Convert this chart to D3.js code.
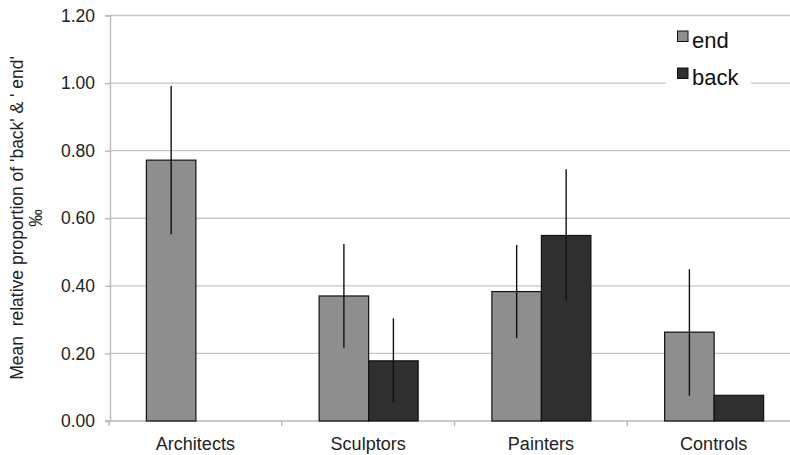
<!DOCTYPE html>
<html><head><meta charset="utf-8">
<script src="https://cdn.jsdelivr.net/npm/d3@7"></script>
<style>body{margin:0;background:#fff}svg{display:block}</style>
</head><body>
<svg id="c" width="790" height="455"></svg>
<script>
const categories = ["Architects","Sculptors","Painters","Controls"];
const series = ["end","back"];
const endValues  = [0.772, 0.370, 0.383, 0.263];
const backValues = [null, 0.178, 0.549, 0.076];
const endErrLow  = [0.553, 0.217, 0.245, 0.075];
const endErrHigh = [0.991, 0.524, 0.521, 0.449];
const backErrLow  = [null, 0.054, 0.356, null];
const backErrHigh = [null, 0.304, 0.745, null];
const yTicks = [0, 0.2, 0.4, 0.6, 0.8, 1.0, 1.2];
const colors = {end:"#8e8e8e", back:"#2f2f2f"};

const svg = d3.select("#c");
const font = "'Liberation Sans', Arial, Helvetica, sans-serif";
const x0 = d3.scaleBand().domain(categories).range([109, 800]).padding(0);
const x1 = d3.scaleBand().domain(series).range([37.4, 136.4]).padding(0);
const y = d3.scaleLinear().domain([0, 1.2]).range([421, 15.5]);

// gridlines
svg.append("g").selectAll("line").data(yTicks.filter(d=>d>0)).join("line")
  .attr("x1", 110).attr("x2", 790)
  .attr("y1", d=>y(d)).attr("y2", d=>y(d))
  .attr("stroke", "#c6c6c6").attr("stroke-width", 1.4);

// y axis
const ya = svg.append("g").attr("transform","translate(110,0)")
  .call(d3.axisLeft(y).tickValues(yTicks).tickFormat(d3.format(".2f")).tickSize(5).tickPadding(10));
ya.select(".domain").attr("stroke","#b8b8b8").attr("stroke-width",1.4);
ya.selectAll(".tick line").attr("stroke","#b8b8b8").attr("stroke-width",1.4);
ya.selectAll(".tick text").attr("font-family",font).attr("font-size",17.5).attr("fill","#222");

// x axis
const xa = svg.append("g").attr("transform","translate(0,421)")
  .call(d3.axisBottom(x0).tickSize(0).tickPadding(16));
xa.select(".domain").remove();
xa.append("line").attr("x1",105).attr("x2",790).attr("stroke","#b8b8b8").attr("stroke-width",1.4);
xa.selectAll(".tick text").attr("font-family",font).attr("font-size",18).attr("fill","#222");
xa.selectAll("line.sep").data(categories).join("line").attr("class","sep")
  .attr("x1", d=>x0(d)).attr("x2", d=>x0(d)).attr("y1",0).attr("y2",5)
  .attr("stroke","#b8b8b8").attr("stroke-width",1.4);

// bars
const data = categories.map((c,i)=>({c, vals:[
  {s:"end", v:endValues[i], lo:endErrLow[i], hi:endErrHigh[i]},
  {s:"back", v:backValues[i], lo:backErrLow[i], hi:backErrHigh[i]}]}));
const g = svg.append("g").selectAll("g").data(data).join("g")
  .attr("transform", d=>`translate(${x0(d.c)},0)`);
g.selectAll("rect").data(d=>d.vals.filter(v=>v.v!=null)).join("rect")
  .attr("x", d=>x1(d.s)).attr("width", x1.bandwidth())
  .attr("y", d=>y(d.v)).attr("height", d=>y(0)-y(d.v))
  .attr("fill", d=>colors[d.s]).attr("stroke","#111").attr("stroke-width",1.2);
g.selectAll("line.err").data(d=>d.vals.filter(v=>v.lo!=null)).join("line").attr("class","err")
  .attr("x1", d=>x1(d.s)+x1.bandwidth()/2).attr("x2", d=>x1(d.s)+x1.bandwidth()/2)
  .attr("y1", d=>y(d.lo)).attr("y2", d=>y(d.hi))
  .attr("stroke","#111").attr("stroke-width",1.4);

// legend
const lg = svg.append("g");
lg.append("rect").attr("x",666).attr("y",22).attr("width",85).attr("height",72).attr("fill","#fff");
series.forEach((s,i)=>{
  const yy = 31 + i*37;
  lg.append("rect").attr("x",677.5).attr("y",yy).attr("width",10.5).attr("height",10.5)
    .attr("fill",colors[s]).attr("stroke","#111").attr("stroke-width",1);
  lg.append("text").attr("x",692).attr("y",yy+17).text(s)
    .attr("font-family",font).attr("font-size",22).attr("fill","#111");
});

// y title
const yt = svg.append("text").attr("transform","translate(23,218) rotate(-90)")
  .attr("text-anchor","middle").attr("font-family",font).attr("font-size",17.5).attr("fill","#222")
  .style("white-space","pre");
yt.append("tspan").attr("x",0).attr("dy",0).text("Mean  relative proportion of 'back' & ' end'");
yt.append("tspan").attr("x",0).attr("dy",19).text("‰");
</script>
</body></html>
